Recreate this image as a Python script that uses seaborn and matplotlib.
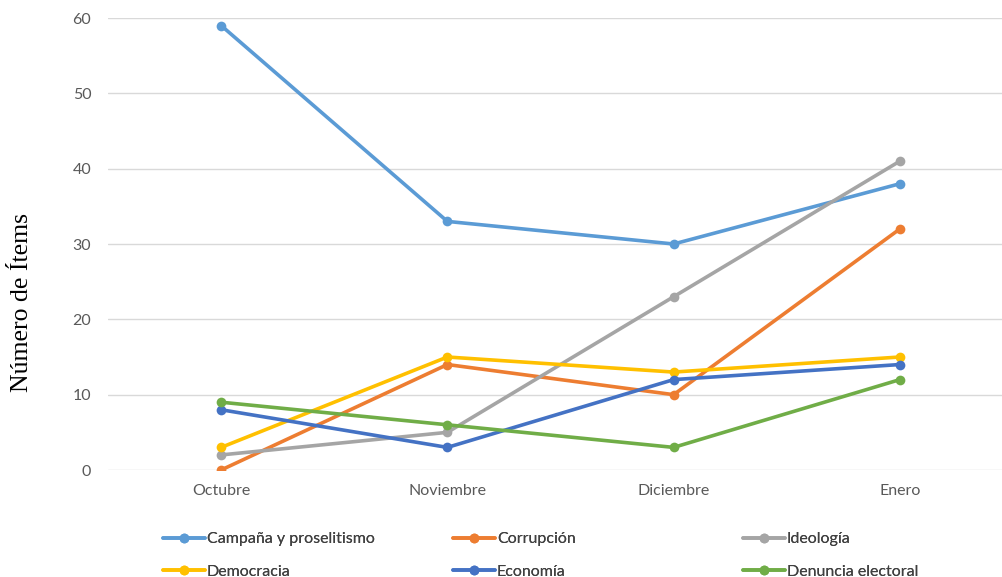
import matplotlib
matplotlib.use("Agg")
import matplotlib.pyplot as plt
from matplotlib.lines import Line2D
import seaborn as sns
import pandas as pd

# Monthly item counts per topic
months = ["Octubre", "Noviembre", "Diciembre", "Enero"]
campana = [59, 33, 30, 38]
corrupcion = [0, 14, 10, 32]
ideologia = [2, 5, 23, 41]
democracia = [3, 15, 13, 15]
economia = [8, 3, 12, 14]
denuncia = [9, 6, 3, 12]

series_names = ["Campaña y proselitismo", "Corrupción", "Ideología",
                "Democracia", "Economía", "Denuncia electoral"]
series_values = [campana, corrupcion, ideologia, democracia, economia, denuncia]
colors = ["#5B9BD5", "#ED7D31", "#A5A5A5", "#FFC000", "#4472C4", "#70AD47"]

rows = []
for name, vals in zip(series_names, series_values):
    for m, v in zip(months, vals):
        rows.append({"Mes": m, "Tema": name, "Items": v})
df = pd.DataFrame(rows)
df["Mes"] = pd.Categorical(df["Mes"], categories=months, ordered=True)
df["x"] = df["Mes"].cat.codes

sns.set_theme(style="white")
plt.rcParams["font.family"] = ["Lato", "DejaVu Sans"]

fig = plt.figure(figsize=(10.02, 5.77), dpi=100)
W, H = 1002, 577
left_px, right_px, top_px, bottom_px = 108, 1013, 18, 470
ax = fig.add_axes([left_px / W, 1 - bottom_px / H,
                   (right_px - left_px) / W, (bottom_px - top_px) / H])

sns.lineplot(data=df, x="x", y="Items", hue="Tema", hue_order=series_names,
             palette=colors, marker="o", markersize=7, markeredgewidth=0,
             linewidth=2.6, legend=False, ax=ax, sort=False)

ax.set_xlim(-0.5, 3.5)
ax.set_ylim(0, 60)
ax.set_xticks(range(len(months)))
ax.set_xticklabels(months)
ax.set_yticks(range(0, 61, 10))
ax.grid(axis="y", color="#D9D9D9", linewidth=1.0)
ax.grid(axis="x", visible=False)
ax.set_axisbelow(True)
for s in ax.spines.values():
    s.set_visible(False)
ax.tick_params(axis="both", length=0, labelsize=11.5, labelcolor="#595959")
ax.tick_params(axis="y", pad=12)
ax.tick_params(axis="x", pad=10)
ax.set_xlabel("")
ax.set_ylabel("")

fig.text(22 / W, 1 - 302 / H, "Número de Ítems", rotation=90,
         ha="center", va="center", fontsize=18.5,
         family=["Liberation Serif", "DejaVu Serif"], color="#000000")

# Legend: three columns of two entries each
col_x = [163, 453, 743]
for c in range(3):
    handles, labels = [], []
    for r in range(2):
        i = r * 3 + c
        handles.append(Line2D([], [], color=colors[i], linewidth=2.6,
                              marker="o", markersize=7, markeredgewidth=0))
        labels.append(series_names[i])
    leg = fig.legend(handles, labels, loc="upper left",
                     bbox_to_anchor=(col_x[c] / W, 1 - 532 / H),
                     frameon=False, fontsize=11.5, handlelength=2.6,
                     handletextpad=0.15, labelspacing=1.15,
                     borderpad=0, borderaxespad=0, labelcolor="#404040")
    fig.add_artist(leg)

fig.savefig("out.png", dpi=100)
